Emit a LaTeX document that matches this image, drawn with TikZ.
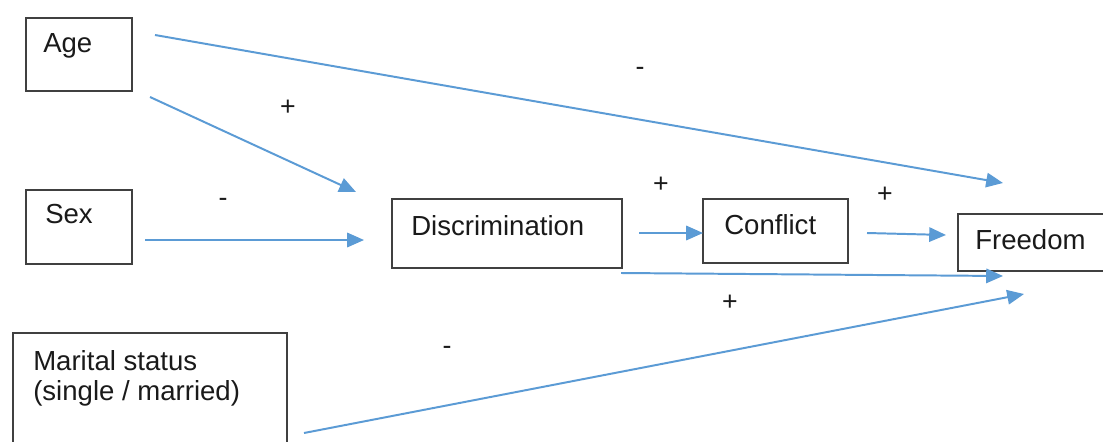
\documentclass[tikz,border=0pt]{standalone}
\usepackage{fontspec}
\setmainfont{Liberation Sans}
\usetikzlibrary{arrows.meta}
\definecolor{pathblue}{RGB}{91,155,213}
\definecolor{boxgray}{RGB}{64,64,64}
\definecolor{inkblack}{RGB}{26,26,26}
\tikzset{
  box/.style={draw=boxgray, line width=1.1pt, inner sep=0pt, anchor=north west},
  lbl/.style={inner sep=0pt, anchor=base west, text=inkblack,
    font=\fontsize{19.6pt}{21.3pt}\selectfont},
  sign/.style={inner sep=0pt, text=inkblack,
    font=\fontsize{19pt}{23pt}\selectfont},
  path/.style={draw=pathblue, line width=1.4pt,
    -{Triangle[length=0.42cm,width=0.36cm]}},
}
\begin{document}
\begin{tikzpicture}[x=0.025cm, y=-0.025cm]
  \clip (0,0) rectangle (1103,441);
  \fill[white] (0,0) rectangle (1103,441);

  % boxes
  \node[box, minimum width=2.65cm,  minimum height=1.825cm] (age)    at (25,17)   {};
  \node[box, minimum width=2.65cm,  minimum height=1.85cm]  (sex)    at (25,189)  {};
  \node[box, minimum width=6.85cm,  minimum height=3.5cm]   (marital) at (12,332) {};
  \node[box, minimum width=5.75cm,  minimum height=1.725cm] (disc)   at (391,198) {};
  \node[box, minimum width=3.625cm, minimum height=1.6cm]   (confl)  at (702,198) {};
  \node[box, minimum width=4.5cm,   minimum height=1.425cm] (free)   at (957,213) {};

  % box texts
  \node[lbl] (agetxt)  at (43,52)   {Age};
  \node[lbl] (sextxt)  at (45,223)  {Sex};
  \node[lbl, align=left, anchor=north west] (martxt) at (33,350)
    {Marital status\\(single / married)};
  \node[lbl] (disctxt) at (411,235) {Discrimination};
  \node[lbl] (conftxt) at (724,234) {Conflict};
  \node[lbl] (freetxt) at (975,249) {Freedom};

  % connector end points
  \coordinate (ageA)  at (155,35);   \coordinate (freeA)  at (1003,183);
  \coordinate (ageB)  at (150,97);   \coordinate (discA)  at (356,192);
  \coordinate (sexA)  at (145,240);  \coordinate (discB)  at (364,240);
  \coordinate (discC) at (639,233);  \coordinate (conA)   at (703,233);
  \coordinate (conB)  at (867,233);  \coordinate (freeB)  at (946,235);
  \coordinate (discD) at (621,273);  \coordinate (freeC)  at (1003,276);
  \coordinate (marA)  at (304,433);  \coordinate (freeD)  at (1024,294);

  % connectors
  \draw[path] (ageA)  -- (freeA);
  \draw[path] (ageB)  -- (discA);
  \draw[path] (sexA)  -- (discB);
  \draw[path] (discC) -- (conA);
  \draw[path] (conB)  -- (freeB);
  \draw[path] (discD) -- (freeC);
  \draw[path] (marA)  -- (freeD);

  % signs
  \node[sign] (s1) at (640,71)  {-};
  \node[sign] (s2) at (288,108) {+};
  \node[sign] (s3) at (223,202) {-};
  \node[sign] (s4) at (661,185) {+};
  \node[sign] (s5) at (885,195) {+};
  \node[sign] (s6) at (730,303) {+};
  \node[sign] (s7) at (447,350) {-};
\end{tikzpicture}
\end{document}
